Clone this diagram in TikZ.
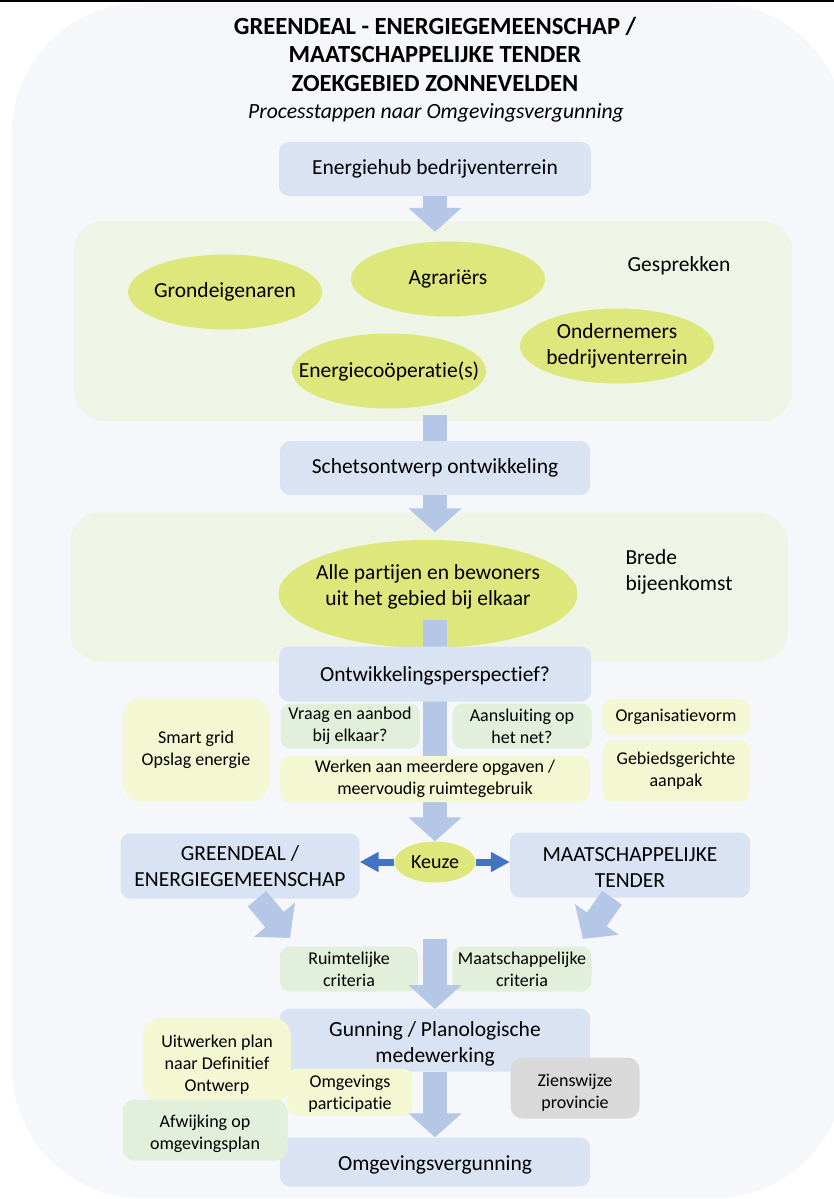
\documentclass[tikz,border=0pt]{standalone}
\usepackage{fontspec}
\setmainfont{Carlito}[Ligatures=CommonOff]
\usetikzlibrary{shapes.geometric,arrows.meta,calc}

\definecolor{pagetint}{HTML}{F5F7FB}
\definecolor{stepblue}{HTML}{DAE3F3}
\definecolor{zonegreen}{HTML}{EEF5E7}
\definecolor{partyyellow}{HTML}{DDE77B}
\definecolor{noteyellow}{HTML}{F3F7D2}
\definecolor{notegreen}{HTML}{E2EFDA}
\definecolor{notegrey}{HTML}{D9D9D9}
\definecolor{arrowblue}{HTML}{B4C7E7}
\definecolor{choiceblue}{HTML}{4472C4}

\newcommand{\droptext}[1]{\rule{0pt}{#1}}

\begin{document}
\begin{tikzpicture}[x=1pt,y=-1pt,
    font=\fontsize{21.5}{26}\selectfont,
    stepbox/.style={fill=stepblue,rounded corners=10pt,align=center,inner sep=0pt},
    zone/.style={fill=zonegreen,rounded corners=30pt,inner sep=0pt},
    party/.style={ellipse,fill=partyyellow,align=center,inner xsep=-40pt,inner ysep=0pt},
    notebox/.style={rounded corners=10pt,align=center,inner sep=0pt,font=\fontsize{18}{22}\selectfont},
    fatarrow/.style={draw=arrowblue,line width=24pt,-{Triangle[width=52pt,length=24pt]}},
    fatshaft/.style={draw=arrowblue,line width=24pt},
    choicearrow/.style={draw=choiceblue,line width=7pt,-{Triangle[width=19pt,length=19pt]}}]
    \clip (0,0) rectangle (834,1199);
    \fill[pagetint,rounded corners=130pt] (12,3) rectangle (845,1198);
    \fill[black] (0,0) rectangle (834,2);

    \node[font=\fontsize{24.6}{28.5}\selectfont\bfseries,align=center] (title) at (435,54)
        {GREENDEAL - ENERGIEGEMEENSCHAP /\\MAATSCHAPPELIJKE TENDER\\ZOEKGEBIED ZONNEVELDEN};
    \node[font=\fontsize{21.7}{26}\selectfont\itshape] (subtitle) at (436,113) {Processtappen naar Omgevingsvergunning};

    \node[stepbox,minimum width=312,minimum height=54] (hub) at (435,169) {Energiehub bedrijventerrein};

    \node[zone,minimum width=718,minimum height=200] (talks) at (433,321) {};
    \foreach \name/\pos/\txt in {owners/{225,292}/Grondeigenaren, farmers/{448,279}/Agrariërs,
        coop/{389,371}/Energiecoöperatie(s), firms/{617,346}/{Ondernemers\\bedrijventerrein}} {
        \node[party,minimum width=194,minimum height=75] (\name) at (\pos) {\txt};
    }
    \node (talkslabel) at (679,266) {Gesprekken};
    \draw[fatarrow] (hub.south) -- ($(hub.south |- talks.north)+(0,11)$);

    \node[stepbox,minimum width=310,minimum height=54] (sketch) at (435,468) {Schetsontwerp ontwikkeling};
    \draw[fatshaft] ($(sketch.north |- talks.south)+(0,-6)$) -- (sketch.north);

    \node[zone,minimum width=718,minimum height=149] (meeting) at (429,587) {};
    \node[party,text depth=17pt,minimum width=299,minimum height=108] (everyone) at (428,594)
        {Alle partijen en bewoners\\uit het gebied bij elkaar};
    \node[anchor=west,align=left] (meetinglabel) at (622,572) {Brede\\bijeenkomst};
    \draw[fatarrow] (sketch.south) -- ($(sketch.south |- meeting.north)+(0,20)$);

    \node[party,font=\fontsize{20}{24}\selectfont,minimum width=81,minimum height=41] (choice) at (435,862) {Keuze};
    \draw[fatarrow] ($(choice.north |- everyone.center)+(0,26)$) -- (choice.north);

    \node[stepbox,minimum width=312,minimum height=55] (outlook) at (435,674) {\droptext{19.5pt}Ontwikkelingsperspectief?};
    \node[notebox,fill=notegreen,minimum width=139,minimum height=45] (demand) at (350,726) {Vraag en aanbod\\bij elkaar?};
    \node[notebox,fill=notegreen,minimum width=139,minimum height=45] (grid) at (522,726) {Aansluiting op\\het net?};
    \node[notebox,fill=noteyellow,minimum width=310,minimum height=46] (tasks) at (435,779)
        {Werken aan meerdere opgaven /\\meervoudig ruimtegebruik};
    \node[notebox,fill=noteyellow,rounded corners=18pt,minimum width=146,minimum height=103] (storage) at (196,750)
        {Smart grid\\Opslag energie};
    \node[notebox,fill=noteyellow,minimum width=147,minimum height=36] (organisation) at (676,717) {Organisatievorm};
    \node[notebox,fill=noteyellow,minimum width=147,minimum height=61] (area) at (676,771) {Gebiedsgerichte\\aanpak};

    \node[stepbox,minimum width=239,minimum height=65] (greendeal) at (240,866) {GREENDEAL /\\ENERGIEGEMEENSCHAP};
    \node[stepbox,minimum width=240,minimum height=65] (tender) at (630,865) {\droptext{19pt}MAATSCHAPPELIJKE\\TENDER};
    \draw[choicearrow] (choice.west) -- (choice.west -| greendeal.east);
    \draw[choicearrow] (choice.east) -- (choice.east -| tender.west);

    \coordinate (tipL) at (290,938);
    \coordinate (tipR) at (583,939);
    \draw[fatarrow] ($(greendeal.south)+(17,0)$) -- (tipL);
    \draw[fatarrow] ($(tender.south)+(-18,0)$) -- (tipR);

    \node[notebox,fill=notegreen,minimum width=138,minimum height=45] (spatial) at (349,969) {Ruimtelijke\\criteria};
    \node[notebox,fill=notegreen,minimum width=139,minimum height=45] (social) at (522,969) {Maatschappelijke\\criteria};
    \coordinate (critstart) at (435,939);
    \draw[fatarrow] (critstart) -- (critstart |- 0,1009);

    \node[stepbox,minimum width=310,minimum height=63] (award) at (435,1040) {\droptext{22.5pt}Gunning / Planologische\\medewerking};
    \node[stepbox,minimum width=310,minimum height=49] (permit) at (435,1162) {\droptext{21.5pt}Omgevingsvergunning};
    \node[notebox,fill=noteyellow,rounded corners=18pt,minimum width=148,minimum height=84] (design) at (217,1060)
        {\droptext{21.5pt}Uitwerken plan\\naar Definitief\\Ontwerp};
    \node[notebox,fill=noteyellow,minimum width=125,minimum height=47] (participation) at (350,1092)
        {\droptext{16pt}Omgevings\\participatie};
    \node[notebox,fill=notegreen,rounded corners=12pt,minimum width=165,minimum height=61] (deviation) at (205,1130)
        {\droptext{19.5pt}Afwijking op\\omgevingsplan};
    \node[notebox,fill=notegrey,rounded corners=12pt,minimum width=129,minimum height=61] (province) at (575,1088)
        {\droptext{21.5pt}Zienswijze\\provincie};
    \draw[fatarrow] (award.south) -- (permit.north);
\end{tikzpicture}
\end{document}
